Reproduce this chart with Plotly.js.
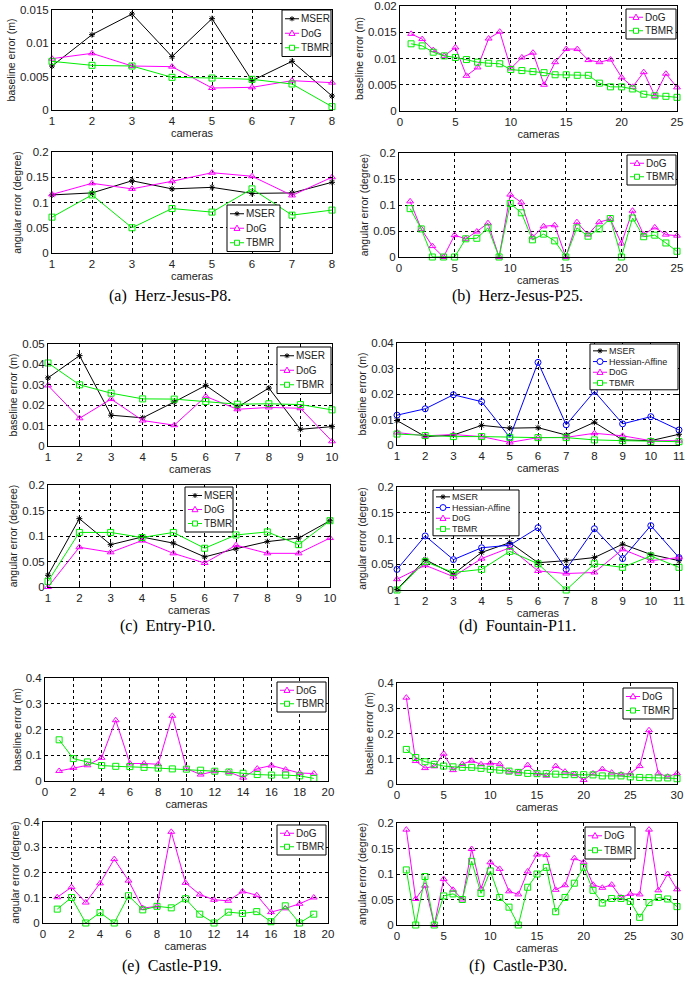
<!DOCTYPE html>
<html>
<head>
<meta charset="utf-8">
<script src="https://cdn.plot.ly/plotly-3.0.1.min.js"></script>
<style>html,body{margin:0;padding:0;background:#fff;}#chart{width:694px;height:985px;}</style>
</head>
<body>
<div id="chart"></div>
<script>
// ---------------- DATA ----------------
const cams8  = [1,2,3,4,5,6,7,8];
const cams10 = [1,2,3,4,5,6,7,8,9,10];
const cams11 = [1,2,3,4,5,6,7,8,9,10,11];
const cams19 = [1,2,3,4,5,6,7,8,9,10,11,12,13,14,15,16,17,18,19];
const cams25 = [1,2,3,4,5,6,7,8,9,10,11,12,13,14,15,16,17,18,19,20,21,22,23,24,25];
const cams30 = [1,2,3,4,5,6,7,8,9,10,11,12,13,14,15,16,17,18,19,20,21,22,23,24,25,26,27,28,29,30];

// (a) Herz-Jesus-P8
const p8BaseMSER = [0.0066,0.0113,0.0144,0.0080,0.0137,0.0044,0.0073,0.0021];
const p8BaseDoG  = [0.0077,0.0085,0.0066,0.0065,0.0033,0.0034,0.0044,0.0041];
const p8BaseTBMR = [0.0073,0.0067,0.0066,0.0049,0.0048,0.0046,0.0039,0.0005];
const p8AngMSER  = [0.115,0.119,0.143,0.127,0.130,0.118,0.119,0.140];
const p8AngDoG   = [0.116,0.138,0.127,0.142,0.159,0.152,0.114,0.150];
const p8AngTBMR  = [0.071,0.115,0.050,0.088,0.081,0.127,0.075,0.085];

// (b) Herz-Jesus-P25
const p25BaseDoG  = [0.0147,0.0137,0.0116,0.0105,0.0121,0.0067,0.0083,0.0138,0.0151,0.0081,0.0102,0.0111,0.0050,0.0093,0.0118,0.0118,0.0097,0.0093,0.0098,0.0064,0.0046,0.0074,0.0029,0.0071,0.0045];
const p25BaseTBMR = [0.0128,0.0124,0.0112,0.0105,0.0102,0.0098,0.0093,0.0091,0.0090,0.0079,0.0077,0.0075,0.0073,0.0069,0.0069,0.0068,0.0068,0.0053,0.0046,0.0046,0.0042,0.0032,0.0029,0.0028,0.0026];
const p25AngDoG   = [0.107,0.054,0.021,0.000,0.042,0.035,0.049,0.065,0.000,0.120,0.105,0.038,0.059,0.061,0.000,0.067,0.043,0.067,0.073,0.026,0.089,0.043,0.057,0.043,0.041];
const p25AngTBMR  = [0.093,0.054,0.000,0.000,0.000,0.035,0.036,0.056,0.000,0.103,0.085,0.033,0.044,0.031,0.000,0.056,0.040,0.054,0.074,0.000,0.075,0.039,0.042,0.027,0.011];

// (c) Entry-P10
const p10BaseMSER = [0.0334,0.0443,0.0151,0.0138,0.0216,0.0297,0.0190,0.0284,0.0082,0.0095];
const p10BaseDoG  = [0.0297,0.0136,0.0230,0.0125,0.0102,0.0243,0.0180,0.0189,0.0185,0.0023];
const p10BaseTBMR = [0.0407,0.0300,0.0259,0.0231,0.0230,0.0218,0.0205,0.0207,0.0203,0.0177];
const p10AngMSER  = [0.023,0.134,0.083,0.098,0.086,0.059,0.075,0.089,0.096,0.130];
const p10AngDoG   = [0.000,0.078,0.068,0.091,0.066,0.047,0.082,0.066,0.066,0.096];
const p10AngTBMR  = [0.011,0.107,0.107,0.097,0.107,0.076,0.102,0.108,0.083,0.130];

// (d) Fountain-P11
const p11BaseMSER = [0.0096,0.0033,0.0039,0.0077,0.0066,0.0068,0.0039,0.0089,0.0020,0.0017,0.0042];
const p11BaseHA   = [0.0117,0.0142,0.0197,0.0170,0.0030,0.0324,0.0079,0.0210,0.0083,0.0111,0.0059];
const p11BaseDoG  = [0.0049,0.0036,0.0041,0.0033,0.0010,0.0029,0.0030,0.0046,0.0036,0.0017,0.0017];
const p11BaseTBMR = [0.0043,0.0037,0.0033,0.0033,0.0030,0.0029,0.0029,0.0020,0.0017,0.0014,0.0013];
const p11AngMSER  = [0.001,0.059,0.031,0.073,0.092,0.053,0.057,0.063,0.089,0.069,0.057];
const p11AngHA    = [0.040,0.105,0.059,0.082,0.087,0.121,0.040,0.119,0.061,0.125,0.063];
const p11AngDoG   = [0.021,0.048,0.026,0.061,0.082,0.037,0.032,0.034,0.079,0.057,0.063];
const p11AngTBMR  = [0.000,0.055,0.034,0.040,0.075,0.051,0.000,0.051,0.044,0.066,0.044];

// (e) Castle-P19
const p19BaseDoG  = [0.039,0.051,0.061,0.090,0.236,0.068,0.068,0.065,0.253,0.048,0.025,0.038,0.035,0.013,0.048,0.060,0.044,0.031,0.029];
const p19BaseTBMR = [0.160,0.087,0.074,0.060,0.057,0.056,0.053,0.050,0.047,0.046,0.042,0.038,0.035,0.030,0.025,0.023,0.023,0.020,0.010];
const p19AngDoG   = [0.102,0.142,0.081,0.157,0.253,0.168,0.059,0.066,0.361,0.159,0.113,0.092,0.088,0.125,0.110,0.043,0.058,0.076,0.101];
const p19AngTBMR  = [0.055,0.101,0.000,0.041,0.000,0.108,0.052,0.066,0.060,0.096,0.035,0.000,0.043,0.038,0.045,0.005,0.068,0.000,0.035];

// (f) Castle-P30
const p30BaseDoG  = [0.342,0.091,0.063,0.070,0.120,0.055,0.079,0.092,0.078,0.082,0.079,0.049,0.046,0.075,0.042,0.033,0.071,0.049,0.039,0.016,0.042,0.059,0.045,0.038,0.042,0.071,0.213,0.042,0.029,0.042];
const p30BaseTBMR = [0.137,0.105,0.088,0.078,0.071,0.068,0.066,0.066,0.062,0.058,0.055,0.051,0.046,0.042,0.041,0.041,0.039,0.037,0.037,0.037,0.036,0.032,0.032,0.032,0.028,0.026,0.025,0.024,0.024,0.021];
const p30AngDoG   = [0.187,0.051,0.077,0.000,0.090,0.069,0.050,0.149,0.071,0.123,0.110,0.066,0.060,0.105,0.138,0.137,0.069,0.078,0.131,0.123,0.079,0.073,0.079,0.054,0.061,0.060,0.187,0.068,0.100,0.070];
const p30AngTBMR  = [0.108,0.000,0.095,0.000,0.057,0.061,0.050,0.125,0.062,0.106,0.054,0.035,0.000,0.074,0.100,0.113,0.026,0.054,0.082,0.113,0.068,0.043,0.052,0.052,0.046,0.015,0.044,0.054,0.051,0.036];

const captions = ["(a)  Herz-Jesus-P8.", "(b)  Herz-Jesus-P25.", "(c)  Entry-P10.", "(d)  Fountain-P11.", "(e)  Castle-P19.", "(f)  Castle-P30."];
const baseTitle = "baseline error (m)";
const angTitle = "angular error (degree)";
const xTitle = "cameras";

// ---------------- STYLE ----------------
const W = 694, H = 985;
const FONT = "Liberation Sans, Arial, Helvetica, sans-serif";
const TXT = "#222222";
const styles = {
  "MSER":           {color: "#000000", symbol: "asterisk-open", size: 5},
  "Hessian-Affine": {color: "#0000ff", symbol: "circle-open", size: 6},
  "DoG":            {color: "#ff00ff", symbol: "triangle-up-open", size: 6},
  "TBMR":           {color: "#00ee00", symbol: "square-open", size: 6}
};

// panels: pixel boxes [left,right,top,bottom], axis ranges, ticks, legend box [left, top, width, rowH, fontSize]
const panels = [
  {box:[52,332,10,110],  xr:[1,8],  xt:1, yr:[0,0.015], yt:0.005, ytitle:baseTitle, x:cams8,
   series:[["MSER",p8BaseMSER],["DoG",p8BaseDoG],["TBMR",p8BaseTBMR]], leg:[282,10,49,14.5,10]},
  {box:[52,332,152,253], xr:[1,8],  xt:1, yr:[0,0.2], yt:0.05, ytitle:angTitle, x:cams8,
   series:[["MSER",p8AngMSER],["DoG",p8AngDoG],["TBMR",p8AngTBMR]], leg:[227,205,53,14.5,10]},
  {box:[400,677,6,111],  xr:[0,25], xt:5, yr:[0,0.02], yt:0.005, ytitle:baseTitle, x:cams25,
   series:[["DoG",p25BaseDoG],["TBMR",p25BaseTBMR]], leg:[626,9,50,13.5,10]},
  {box:[399,677,153,257],xr:[0,25], xt:5, yr:[0,0.2], yt:0.05, ytitle:angTitle, x:cams25,
   series:[["DoG",p25AngDoG],["TBMR",p25AngTBMR]], leg:[627,155,49,13.5,10]},
  {box:[48,332,344,446], xr:[1,10], xt:1, yr:[0,0.05], yt:0.01, ytitle:baseTitle, x:cams10,
   series:[["MSER",p10BaseMSER],["DoG",p10BaseDoG],["TBMR",p10BaseTBMR]], leg:[277,347,54,14.5,10]},
  {box:[48,330,485,587], xr:[1,10], xt:1, yr:[0,0.2], yt:0.05, ytitle:angTitle, x:cams10,
   series:[["MSER",p10AngMSER],["DoG",p10AngDoG],["TBMR",p10AngTBMR]], leg:[185,487,48,14,10]},
  {box:[397,679,343,445],xr:[1,11], xt:1, yr:[0,0.04], yt:0.01, ytitle:baseTitle, x:cams11,
   series:[["MSER",p11BaseMSER],["Hessian-Affine",p11BaseHA],["DoG",p11BaseDoG],["TBMR",p11BaseTBMR]], leg:[590,344,88,10.7,9]},
  {box:[397,679,487,590],xr:[1,11], xt:1, yr:[0,0.2], yt:0.05, ytitle:angTitle, x:cams11,
   series:[["MSER",p11AngMSER],["Hessian-Affine",p11AngHA],["DoG",p11AngDoG],["TBMR",p11AngTBMR]], leg:[433,490,86,10.7,9]},
  {box:[45,328,678,781], xr:[0,20], xt:2, yr:[0,0.4], yt:0.1, ytitle:baseTitle, x:cams19,
   series:[["DoG",p19BaseDoG],["TBMR",p19BaseTBMR]], leg:[277,682,49,13.5,10]},
  {box:[43,328,822,923], xr:[0,20], xt:2, yr:[0,0.4], yt:0.1, ytitle:angTitle, x:cams19,
   series:[["DoG",p19AngDoG],["TBMR",p19AngTBMR]], leg:[277,825,49,13.5,10]},
  {box:[397,677,683,784],xr:[0,30], xt:5, yr:[0,0.4], yt:0.1, ytitle:baseTitle, x:cams30,
   series:[["DoG",p30BaseDoG],["TBMR",p30BaseTBMR]], leg:[623,688,50,14,10]},
  {box:[397,677,823,925],xr:[0,30], xt:5, yr:[0,0.2], yt:0.05, ytitle:angTitle, x:cams30,
   series:[["DoG",p30AngDoG],["TBMR",p30AngTBMR]], leg:[585,827,50,14.5,10]}
];
const captionPos = [[170,296],[517,296],[168,626],[517,626],[172,966],[518,966]];

const X = px => px / W;
const Y = py => 1 - py / H;

const traces = [];
const shapes = [];
const annotations = [];
const layout = {
  width: W, height: H,
  margin: {l:0, r:0, t:0, b:0},
  paper_bgcolor: "#ffffff", plot_bgcolor: "#ffffff",
  font: {family: FONT, color: TXT, size: 11},
  showlegend: false
};

function markerShape(name, cx, cy) {
  const s = styles[name];
  const ln = {color: s.color, width: 1};
  const base = {xref: "paper", yref: "paper", layer: "above", line: ln};
  if (s.symbol === "square-open") {
    shapes.push(Object.assign({type: "rect", x0: X(cx-2.5), x1: X(cx+2.5), y0: Y(cy+2.5), y1: Y(cy-2.5), fillcolor: "#ffffff"}, base));
  } else if (s.symbol === "circle-open") {
    shapes.push(Object.assign({type: "circle", x0: X(cx-3), x1: X(cx+3), y0: Y(cy+3), y1: Y(cy-3), fillcolor: "#ffffff"}, base));
  } else if (s.symbol === "triangle-up-open") {
    const p = `M${X(cx)},${Y(cy-3.2)} L${X(cx+3)},${Y(cy+2.2)} L${X(cx-3)},${Y(cy+2.2)} Z`;
    shapes.push(Object.assign({type: "path", path: p, fillcolor: "#ffffff"}, base));
  } else {
    const p = `M${X(cx-2.5)},${Y(cy)} L${X(cx+2.5)},${Y(cy)} M${X(cx)},${Y(cy-2.5)} L${X(cx)},${Y(cy+2.5)} ` +
              `M${X(cx-1.8)},${Y(cy-1.8)} L${X(cx+1.8)},${Y(cy+1.8)} M${X(cx-1.8)},${Y(cy+1.8)} L${X(cx+1.8)},${Y(cy-1.8)}`;
    shapes.push(Object.assign({type: "path", path: p}, base));
  }
}

function addLegend(names, leg) {
  const [left, top, width, rowH, fs] = leg;
  const pad = 1.5;
  const height = names.length * rowH + 2 * pad;
  shapes.push({type: "rect", xref: "paper", yref: "paper", layer: "above",
    x0: X(left), x1: X(left + width), y0: Y(top + height), y1: Y(top),
    fillcolor: "#ffffff", line: {color: "#000000", width: 1}});
  names.forEach((name, i) => {
    const cy = top + pad + rowH * (i + 0.5);
    const s = styles[name];
    shapes.push({type: "line", xref: "paper", yref: "paper", layer: "above",
      x0: X(left + 3), x1: X(left + 17), y0: Y(cy), y1: Y(cy), line: {color: s.color, width: 1}});
    markerShape(name, left + 10, cy);
    annotations.push({text: name, xref: "paper", yref: "paper", x: X(left + 17.5), y: Y(cy),
      xanchor: "left", yanchor: "middle", showarrow: false, borderpad: 0,
      font: {family: FONT, size: fs, color: TXT}});
  });
}

panels.forEach((p, i) => {
  const n = i + 1;
  const xa = n === 1 ? "xaxis" : "xaxis" + n;
  const ya = n === 1 ? "yaxis" : "yaxis" + n;
  const xr = n === 1 ? "x" : "x" + n;
  const yr = n === 1 ? "y" : "y" + n;
  const common = {
    showline: true, linecolor: "#000", linewidth: 1, mirror: "ticks",
    ticks: "inside", ticklen: 3, tickcolor: "#000", tickwidth: 1,
    showgrid: true, gridcolor: "#000", gridwidth: 1, griddash: "dot",
    zeroline: false, tickfont: {family: FONT, size: 11.5, color: TXT}
  };
  layout[xa] = Object.assign({}, common, {
    domain: [X(p.box[0]), X(p.box[1])], anchor: yr, range: p.xr, dtick: p.xt, tick0: 0,
    title: {text: xTitle, font: {family: FONT, size: 11, color: TXT}, standoff: 0}
  });
  layout[ya] = Object.assign({}, common, {
    domain: [Y(p.box[3]), Y(p.box[2])], anchor: xr, range: p.yr, dtick: p.yt, tick0: 0,
    title: {text: p.ytitle, font: {family: FONT, size: 10.5, color: TXT}, standoff: 2}
  });
  p.series.forEach(([name, vals]) => {
    const s = styles[name];
    traces.push({
      type: "scatter", mode: "lines+markers", name: name,
      x: p.x, y: vals, xaxis: xr, yaxis: yr, cliponaxis: false,
      line: {color: s.color, width: 1},
      marker: {symbol: s.symbol, size: s.size, color: s.color, line: {color: s.color, width: 1}}
    });
  });
  addLegend(p.series.map(s => s[0]), p.leg);
});

captions.forEach((c, i) => {
  annotations.push({
    text: c, xref: "paper", yref: "paper",
    x: X(captionPos[i][0]), y: Y(captionPos[i][1]),
    xanchor: "center", yanchor: "middle", showarrow: false,
    font: {family: "Liberation Serif, Times New Roman, serif", size: 16, color: "#000"}
  });
});

layout.shapes = shapes;
layout.annotations = annotations;

Plotly.newPlot("chart", traces, layout, {staticPlot: true, displayModeBar: false});
</script>
</body>
</html>
